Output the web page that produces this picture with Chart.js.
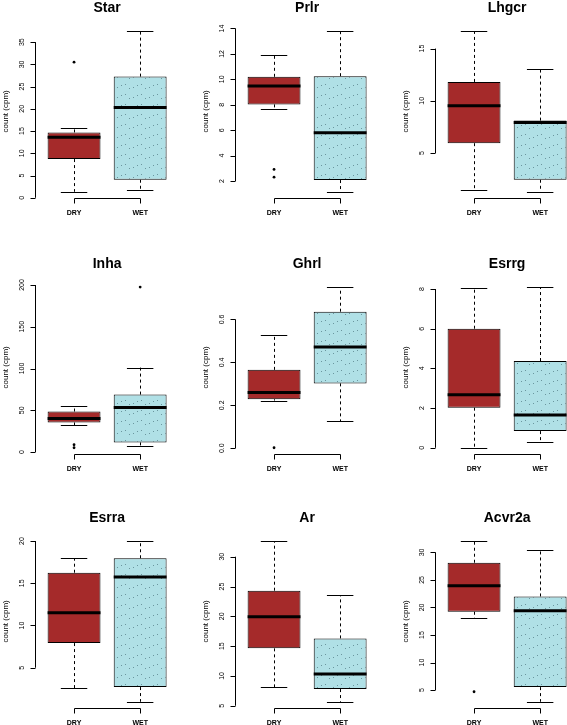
<!DOCTYPE html>
<html>
<head>
<meta charset="utf-8">
<script src="https://cdn.jsdelivr.net/npm/chart.js@4.4.0/dist/chart.umd.min.js"></script>
<style>
  html, body { margin: 0; padding: 0; background: #fff; }
  #wrap { position: relative; width: 567px; height: 725px; overflow: hidden; background: #fff; }
  #wrap canvas { position: absolute; }
</style>
</head>
<body>
<div id="wrap"></div>
<script>
// boxplot stats (count, cpm)
const genes = ['Star', 'Prlr', 'Lhgcr', 'Inha', 'Ghrl', 'Esrrg', 'Esrra', 'Ar', 'Acvr2a'];
const groups = ['DRY', 'WET'];

const dryLow  = [1.35, 7.64, 1.5, 31.8, 0.222, 0.0, 2.56, 8.09, 18.0];
const dryQ1   = [8.7, 8.03, 5.95, 35.4, 0.228, 2.02, 7.92, 14.63, 19.22];
const dryMed  = [13.6, 9.47, 9.52, 40.2, 0.259, 2.67, 11.51, 19.93, 23.94];
const dryQ3   = [14.7, 10.2, 11.81, 48.5, 0.365, 6.0, 16.25, 24.3, 28.12];
const dryHigh = [15.6, 11.9, 16.68, 55.7, 0.527, 8.05, 17.96, 32.63, 32.06];
const dryOut  = [[30.5], [2.92, 2.31], [], [8.7, 5.1], [0.002], [], [], [], [4.7]];

const wetLow  = [1.8, 1.16, 1.3, 7.5, 0.125, 0.30, 0.97, 5.67, 2.88];
const wetQ1   = [4.05, 2.08, 2.45, 11.5, 0.302, 0.84, 2.71, 7.8, 5.54];
const wetMed  = [20.3, 5.8, 7.92, 53.3, 0.472, 1.65, 15.74, 10.32, 19.4];
const wetQ3   = [27.25, 10.25, 8.11, 68.8, 0.636, 4.37, 17.96, 16.3, 22.0];
const wetHigh = [37.5, 13.8, 13.05, 101.1, 0.751, 8.1, 20.0, 23.52, 30.42];
const wetOut  = [[], [], [], [197.6], [], [], [], [], []];

const yTicks = [
    ['0', '5', '10', '15', '20', '25', '30', '35'],
    ['2', '4', '6', '8', '10', '12', '14'],
    ['5', '10', '15'],
    ['0', '50', '100', '150', '200'],
    ['0.0', '0.2', '0.4', '0.6'],
    ['0', '2', '4', '6', '8'],
    ['5', '10', '15', '20'],
    ['5', '10', '15', '20', '25', '30'],
    ['5', '10', '15', '20', '25', '30']
];

const FONT = '"Liberation Sans", Arial, Helvetica, sans-serif';
const dryColor = '#a52a2a';
const wetColor = '#b0e0e6';
const rowTop = [0, 256, 510];

// light blue fill with the sparse diagonal dot texture
function dotPattern() {
    const c = document.createElement('canvas');
    c.width = 16; c.height = 10;
    const g = c.getContext('2d');
    g.fillStyle = wetColor;
    g.fillRect(0, 0, 16, 10);
    g.fillStyle = 'rgba(70, 110, 120, 0.65)';
    [[1, 8], [5, 7], [9, 5], [13, 4]].forEach(([x, y]) => g.fillRect(x, y, 1, 1));
    return g.createPattern(c, 'repeat');
}

// whiskers, staples, medians, outliers and R-style axes
const boxParts = {
    id: 'boxParts',
    afterDatasetsDraw(chart, args, opts) {
        const i = opts.panel;
        const ctx = chart.ctx;
        const xs = chart.scales.x, ys = chart.scales.y;
        const area = chart.chartArea;
        const unit = xs.getPixelForValue(2) - xs.getPixelForValue(1);
        const stats = [
            [dryLow[i], dryQ1[i], dryMed[i], dryQ3[i], dryHigh[i], dryOut[i]],
            [wetLow[i], wetQ1[i], wetMed[i], wetQ3[i], wetHigh[i], wetOut[i]]
        ];

        ctx.save();
        ctx.strokeStyle = '#000';
        ctx.fillStyle = '#000';
        stats.forEach(([lo, q1, md, q3, hi, out], g) => {
            const xc = xs.getPixelForValue(g + 1);
            const x = Math.floor(xc) + 0.5;
            ctx.lineWidth = 1;
            ctx.setLineDash([3, 3]);
            ctx.beginPath();
            ctx.moveTo(x, ys.getPixelForValue(q3));
            ctx.lineTo(x, ys.getPixelForValue(hi));
            ctx.moveTo(x, ys.getPixelForValue(q1));
            ctx.lineTo(x, ys.getPixelForValue(lo));
            ctx.stroke();
            ctx.setLineDash([]);
            ctx.beginPath();
            [lo, hi].forEach(v => {
                const y = Math.round(ys.getPixelForValue(v)) + 0.5;
                ctx.moveTo(xc - unit * 0.2, y);
                ctx.lineTo(xc + unit * 0.2, y);
            });
            ctx.stroke();
            ctx.lineWidth = 3;
            ctx.beginPath();
            const ym = ys.getPixelForValue(md);
            ctx.moveTo(xc - unit * 0.4, ym);
            ctx.lineTo(xc + unit * 0.4, ym);
            ctx.stroke();
            out.forEach(v => {
                ctx.beginPath();
                ctx.arc(xc, ys.getPixelForValue(v), 1.4, 0, Math.PI * 2);
                ctx.fill();
            });
        });

        // y axis: line only between first and last tick
        ctx.lineWidth = 1;
        const left = Math.floor(area.left) + 0.5;
        const ticks = ys.ticks;
        ctx.beginPath();
        ctx.moveTo(left, ys.getPixelForTick(0));
        ctx.lineTo(left, ys.getPixelForTick(ticks.length - 1));
        ticks.forEach((t, k) => {
            const y = Math.round(ys.getPixelForTick(k)) + 0.5;
            ctx.moveTo(left - 5, y);
            ctx.lineTo(left, y);
        });
        ctx.stroke();
        ctx.font = '7px ' + FONT;
        ctx.textAlign = 'center';
        ctx.textBaseline = 'middle';
        ticks.forEach((t, k) => {
            ctx.save();
            ctx.translate(area.left - 13.7, ys.getPixelForTick(k));
            ctx.rotate(-Math.PI / 2);
            ctx.fillText(t.label, 0, 0);
            ctx.restore();
        });
        ctx.font = '8px ' + FONT;
        ctx.save();
        ctx.translate(area.left - 30.2, (area.top + area.bottom) / 2);
        ctx.rotate(-Math.PI / 2);
        ctx.fillText('count (cpm)', 0, 0);
        ctx.restore();

        // x axis bracket between the two groups
        const yb = Math.floor(area.bottom) + 0.5;
        const xa = Math.floor(xs.getPixelForValue(1)) + 0.5;
        const xw = Math.floor(xs.getPixelForValue(2)) + 0.5;
        ctx.beginPath();
        ctx.moveTo(xa, yb);
        ctx.lineTo(xw, yb);
        [xa, xw].forEach(x => { ctx.moveTo(x, yb); ctx.lineTo(x, yb + 5); });
        ctx.stroke();
        ctx.font = 'bold 7px ' + FONT;
        ctx.textBaseline = 'alphabetic';
        groups.forEach((g, k) => ctx.fillText(g, xs.getPixelForValue(k + 1), area.bottom + 16.5));

        // panel title
        ctx.font = 'bold 14px ' + FONT;
        ctx.fillText(genes[i], (area.left + area.right) / 2, area.top - 12.8);
        ctx.restore();
    }
};

const wrap = document.getElementById('wrap');
const wetFill = dotPattern();

genes.forEach((gene, i) => {
    const col = i % 3, row = Math.floor(i / 3);
    const cv = document.createElement('canvas');
    cv.width = 200;
    cv.height = 255;
    cv.style.left = (col * 200) + 'px';
    cv.style.top = rowTop[row] + 'px';
    wrap.appendChild(cv);

    const lo = Math.min(dryLow[i], wetLow[i], ...dryOut[i], ...wetOut[i]);
    const hi = Math.max(dryHigh[i], wetHigh[i], ...dryOut[i], ...wetOut[i]);
    const pad = 0.04 * (hi - lo);

    new Chart(cv, {
        type: 'bar',
        data: {
            datasets: [{
                data: [
                    { x: 1, y: [dryQ1[i], dryQ3[i]] },
                    { x: 2, y: [wetQ1[i], wetQ3[i]] }
                ],
                backgroundColor: [dryColor, wetFill],
                borderColor: '#000',
                borderWidth: 1,
                borderSkipped: false,
                barPercentage: 0.8,
                categoryPercentage: 1
            }]
        },
        options: {
            responsive: false,
            animation: false,
            layout: { padding: { left: 35.7, right: 21.5, top: 24.6, bottom: 56.8 } },
            plugins: {
                legend: { display: false },
                tooltip: { enabled: false },
                boxParts: { panel: i }
            },
            scales: {
                x: {
                    type: 'linear',
                    display: false,
                    offset: false,
                    bounds: 'data',
                    min: 0.42,
                    max: 2.58,
                    afterBuildTicks: s => { s.ticks = [{ value: 1 }, { value: 2 }]; }
                },
                y: {
                    type: 'linear',
                    display: false,
                    bounds: 'data',
                    beginAtZero: false,
                    min: lo - pad,
                    max: hi + pad,
                    afterBuildTicks: s => { s.ticks = yTicks[i].map(t => ({ value: parseFloat(t) })); },
                    ticks: { callback: (v, k) => yTicks[i][k] }
                }
            }
        },
        plugins: [boxParts]
    });
});
</script>
</body>
</html>
